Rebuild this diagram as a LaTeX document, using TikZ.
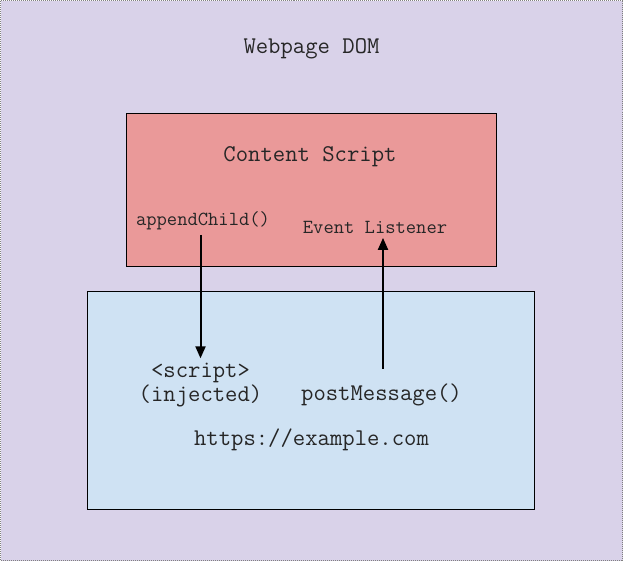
\documentclass[tikz,border=0pt]{standalone}
\usepackage{fontspec}
\usetikzlibrary{arrows.meta}
\definecolor{domviolet}{HTML}{D9D2E9}
\definecolor{csred}{HTML}{EA9999}
\definecolor{pageblue}{HTML}{CFE2F3}
\tikzset{
  bigtxt/.style={font=\fontsize{18}{18}\selectfont\ttfamily, align=center, text=black!85},
  smalltxt/.style={font=\fontsize{15}{15}\selectfont\ttfamily, text=black!85},
  flow/.style={line width=1.5pt, -{Triangle[length=9pt,width=7.5pt]}}
}
\begin{document}
\begin{tikzpicture}[x=0.75pt,y=-0.75pt]
    \useasboundingbox (0,0) rectangle (623,561);
    \draw[fill=domviolet, draw=gray, dash pattern=on 0.75pt off 0.75pt, line width=0.75pt] (0.5,0.5) rectangle (622.5,560.5);
    \draw[fill=csred, line width=0.75pt] (126.5,113.5) rectangle (496.5,266); % content script
    \draw[fill=pageblue, line width=0.75pt] (87.5,291.5) rectangle (534,509); % page
    \node[bigtxt] (dom) at (311.5,49) {Webpage DOM};
    \node[bigtxt] (cs) at (310,157) {Content Script};
    \node[smalltxt] (append) at (203,221) {appendChild()};
    \node[smalltxt] (listener) at (375,227) {Event Listener};
    \node[bigtxt] (script) at (200.5,385) {<script>\\(injected)};
    \node[bigtxt] (post) at (381.5,395) {postMessage()};
    \node[bigtxt] (site) at (311.5,440) {https://example.com};
    \draw[flow] (script.north |- append.south) -- (script.north);
    \draw[flow, shorten <=8pt] (post.north -| 383,0) -- (listener.south -| 383,0);
\end{tikzpicture}
\end{document}
